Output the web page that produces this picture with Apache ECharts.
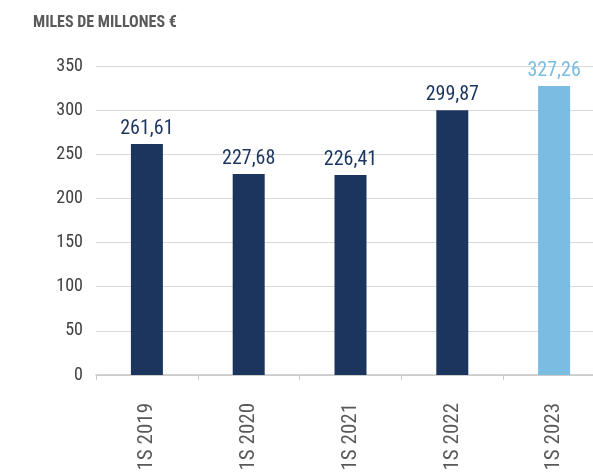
<!DOCTYPE html>
<html>
<head>
<meta charset="utf-8">
<script src="https://cdn.jsdelivr.net/npm/echarts@6/dist/echarts.min.js"></script>
<style>
  html, body { margin: 0; padding: 0; background: #fff; }
  #chart { width: 593px; height: 473px; }
</style>
</head>
<body>
<div id="chart"></div>
<script>
const categories = ['1S 2019', '1S 2020', '1S 2021', '1S 2022', '1S 2023']
const values = [261.61, 227.68, 226.41, 299.87, 327.26]
const barColors = ['#1b355e', '#1b355e', '#1b355e', '#1b355e', '#7abce2']

const FONT = "'Liberation Sans Narrow', 'Roboto Condensed', 'Open Sans', sans-serif"

const chart = echarts.init(document.getElementById('chart'))

const fmt = v => v.toFixed(2).replace('.', ',')

chart.setOption({
  animation: false,
  backgroundColor: '#fff',
  title: {
    text: 'MILES DE MILLONES €',
    left: 28,
    top: 10,
    textStyle: { fontFamily: FONT, fontSize: 16, fontWeight: 'bold', color: '#5a5a5a' }
  },
  grid: { left: 96, right: -12, top: 66, bottom: 98, outerBoundsMode: 'none' },
  xAxis: {
    type: 'category',
    data: categories,
    axisLine: { lineStyle: { color: '#c8c8c8', width: 1.5 } },
    axisTick: { show: true, length: 5, lineStyle: { color: '#c8c8c8' } },
    axisLabel: { rotate: 90, margin: 28, fontFamily: FONT, fontSize: 21, color: '#595959' }
  },
  yAxis: {
    type: 'value',
    min: 0,
    max: 350,
    interval: 50,
    axisLine: { show: false },
    axisTick: { show: false },
    axisLabel: { margin: 13, fontFamily: FONT, fontSize: 18, color: '#404040' },
    splitLine: { lineStyle: { color: '#d9d9d9' } }
  },
  series: [{
    type: 'bar',
    barWidth: 32,
    data: values.map((v, i) => ({
      value: v,
      itemStyle: { color: barColors[i] },
      label: { color: barColors[i] }
    })),
    label: {
      show: true,
      position: 'top',
      distance: 5,
      fontFamily: FONT,
      fontSize: 20,
      formatter: p => fmt(p.value)
    }
  }]
})
</script>
</body>
</html>
